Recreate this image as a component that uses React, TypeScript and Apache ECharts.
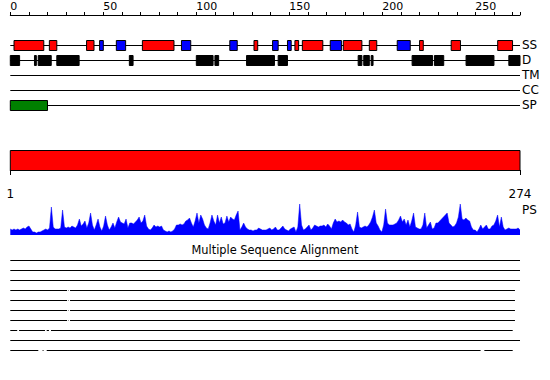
import React, { useEffect, useRef } from 'react';
import * as echarts from 'echarts';

const SEQ_LEN = 274;
const TOP_TICKS = [0, 10, 20, 30, 40, 50, 60, 70, 80, 90, 100, 110, 120, 130, 140, 150, 160, 170, 180, 190, 200, 210, 220, 230, 240, 250, 260, 270, 274];
const TOP_LABELS = [0, 50, 100, 150, 200, 250];
const DOMAIN_LABELS = [1, 274];
const TRACKS = ['SS', 'D', 'TM', 'CC', 'SP'];

// secondary structure: helices (red) and strands (blue), [start, end]
const SS_HELIX = [[2, 18], [21, 25], [41, 45], [71, 88], [131, 133], [153, 155], [157, 168], [179, 189], [193, 197], [220, 222], [237, 242], [262, 270]];
const SS_STRAND = [[48, 50], [57, 62], [92, 97], [118, 122], [141, 144], [149, 151], [172, 178], [208, 215]];
// disorder (black)
const DISORDER = [[0, 5], [13, 14], [15, 22], [25, 37], [64, 66], [100, 109], [110, 112], [127, 142], [144, 149], [187, 189], [190, 193], [194, 195], [216, 227], [228, 233], [245, 260], [268, 274]];
// signal peptide (green)
const SIGNAL = [[0, 20]];
// domain bar
const DOMAIN = [[1, 274]];

// PS profile, one value per residue 1..274
const PS_VALUES = [
  6, 5, 6, 5, 6, 5, 6, 7, 6, 8,
  9, 6, 3, 3, 2, 3, 3, 4, 5, 6,
  5, 7, 28, 8, 6, 6, 6, 7, 25, 8,
  7, 8, 7, 9, 8, 7, 10, 16, 9, 11,
  14, 7, 12, 22, 10, 5, 10, 16, 8, 4,
  9, 19, 10, 5, 8, 12, 7, 13, 18, 13,
  12, 11, 16, 7, 12, 12, 11, 13, 15, 18,
  12, 14, 20, 9, 6, 5, 7, 10, 8, 9,
  8, 9, 5, 4, 3, 4, 3, 4, 6, 10,
  10, 11, 10, 11, 14, 15, 17, 12, 8, 14,
  22, 12, 20, 16, 10, 7, 6, 12, 20, 14,
  10, 20, 12, 18, 11, 12, 19, 13, 18, 16,
  15, 20, 24, 5, 8, 12, 8, 6, 5, 5,
  4, 5, 5, 7, 6, 5, 5, 5, 6, 7,
  5, 6, 8, 5, 5, 7, 9, 6, 5, 4,
  6, 7, 8, 3, 8, 31, 10, 5, 6, 8,
  10, 5, 7, 10, 9, 8, 9, 9, 10, 8,
  11, 9, 6, 12, 16, 13, 14, 13, 15, 13,
  12, 10, 11, 6, 3, 10, 23, 8, 7, 8,
  9, 8, 10, 13, 18, 25, 12, 9, 5, 3,
  10, 26, 12, 10, 10, 10, 11, 12, 15, 19,
  13, 16, 10, 15, 8, 14, 22, 8, 7, 6,
  6, 10, 22, 7, 10, 13, 6, 7, 12, 12,
  14, 16, 18, 20, 22, 12, 10, 8, 9, 12,
  18, 31, 16, 15, 17, 15, 14, 8, 5, 5,
  3, 6, 10, 6, 8, 10, 6, 6, 9, 10,
  14, 20, 8, 18, 8, 5, 6, 7, 6, 6,
  6, 6, 7, 5,
];

// multiple sequence alignment: covered segments per row
const MSA_ROWS = [
  [[1, 274]],
  [[1, 274]],
  [[1, 274]],
  [[1, 31.4], [32.1, 32.3], [33, 271.3]],
  [[1, 31.4], [32.1, 32.3], [33, 271.3]],
  [[1, 31.4], [32.1, 32.3], [33, 271.3]],
  [[1, 31.4], [32.1, 32.3], [33, 271.3]],
  [[1, 4.7], [5.7, 19.6], [20.5, 21.7], [22.8, 270.1]],
  [[1, 274]],
  [[1, 16], [18.3, 18.8], [20.5, 252.9], [254.9, 270.1]],
];

const FONT = 'DejaVu Sans';

function boxRenderer(params: any, api: any) {
  const row = api.value(2);
  const p0 = api.coord([api.value(0), row]);
  const p1 = api.coord([api.value(1), row]);
  return {
    type: 'rect',
    shape: { x: p0[0], y: Math.round(p0[1]) - 5 + 0.5, width: p1[0] - p0[0], height: 10 },
    style: { fill: api.visual('color'), stroke: '#000', lineWidth: 1 },
  };
}

function buildOption() {
  const toRow = (arr: number[][], row: number) => arr.map(([s, e]) => [s, e, row]);
  const msaData: number[][] = [];
  MSA_ROWS.forEach((segs, i) => segs.forEach(([s, e]) => msaData.push([s, e, i])));
  const blackText = { color: '#000', fontFamily: FONT };

  return {
    animation: false,
    textStyle: { fontFamily: FONT, color: '#000' },
    grid: [
      { left: 10.3, width: 509.7, top: 45, height: 60 },
      { left: 10.3, width: 509.7, top: 150, height: 20 },
      { left: 10.3, width: 509.7, top: 200, height: 35 },
      { left: 10.3, width: 509.7, top: 260, height: 90 },
    ],
    xAxis: [
      {
        gridIndex: 0, type: 'value', min: 0, max: SEQ_LEN, position: 'top', offset: 30,
        axisLine: { show: true, lineStyle: { color: '#000', width: 1 } },
        axisTick: { show: true, customValues: TOP_TICKS, length: 3, lineStyle: { color: '#000' } },
        axisLabel: { customValues: TOP_LABELS, align: 'left', margin: 3, fontSize: 11, ...blackText },
        splitLine: { show: false },
      },
      {
        gridIndex: 1, type: 'value', min: 1, max: SEQ_LEN, position: 'bottom', offset: 10,
        axisLine: { show: true, lineStyle: { color: '#000', width: 1 } },
        axisTick: { show: true, customValues: DOMAIN_LABELS, length: 5, lineStyle: { color: '#000' } },
        axisLabel: { customValues: DOMAIN_LABELS, margin: 8, fontSize: 12, ...blackText },
        splitLine: { show: false },
      },
      { gridIndex: 2, type: 'value', min: 1, max: SEQ_LEN, show: false },
      { gridIndex: 3, type: 'value', min: 1, max: SEQ_LEN, show: false },
    ],
    yAxis: [
      {
        gridIndex: 0, type: 'category', data: TRACKS, inverse: true, boundaryGap: false, position: 'right',
        axisLine: { show: false }, axisTick: { show: false },
        axisLabel: { interval: 0, margin: 2, fontSize: 12, ...blackText },
        splitLine: { show: true, interval: 0, lineStyle: { color: '#000', width: 1 } },
      },
      { gridIndex: 1, type: 'value', min: 0, max: 1, show: false },
      { gridIndex: 2, type: 'value', min: 0, max: 35, show: false },
      {
        gridIndex: 3, type: 'category', data: MSA_ROWS.map((_, i) => String(i + 1)), inverse: true,
        boundaryGap: false, show: false,
      },
    ],
    graphic: [
      { type: 'text', x: 522, y: 204, style: { text: 'PS', fontSize: 12, fontFamily: FONT, fill: '#000' } },
      {
        type: 'text', x: 275, y: 250,
        style: { text: 'Multiple Sequence Alignment', fontSize: 11.4, fontFamily: FONT, fill: '#000', align: 'center', verticalAlign: 'middle' },
      },
    ],
    series: [
      { name: 'Helix', type: 'custom', xAxisIndex: 0, yAxisIndex: 0, itemStyle: { color: '#ff0000' }, renderItem: boxRenderer, encode: { x: [0, 1], y: 2 }, data: toRow(SS_HELIX, 0) },
      { name: 'Strand', type: 'custom', xAxisIndex: 0, yAxisIndex: 0, itemStyle: { color: '#0000ff' }, renderItem: boxRenderer, encode: { x: [0, 1], y: 2 }, data: toRow(SS_STRAND, 0) },
      { name: 'Disorder', type: 'custom', xAxisIndex: 0, yAxisIndex: 0, itemStyle: { color: '#000000' }, renderItem: boxRenderer, encode: { x: [0, 1], y: 2 }, data: toRow(DISORDER, 1) },
      { name: 'Signal', type: 'custom', xAxisIndex: 0, yAxisIndex: 0, itemStyle: { color: '#008000' }, renderItem: boxRenderer, encode: { x: [0, 1], y: 2 }, data: toRow(SIGNAL, 4) },
      {
        name: 'Domain', type: 'custom', xAxisIndex: 1, yAxisIndex: 1, itemStyle: { color: '#ff0000' },
        encode: { x: [0, 1] },
        data: DOMAIN,
        renderItem: (params: any, api: any) => {
          const p0 = api.coord([api.value(0), 1]);
          const p1 = api.coord([api.value(1), 0]);
          return {
            type: 'rect',
            shape: { x: p0[0], y: p0[1] + 0.5, width: p1[0] - p0[0], height: p1[1] - p0[1] },
            style: { fill: api.visual('color'), stroke: '#000', lineWidth: 1 },
          };
        },
      },
      {
        name: 'PS', type: 'line', xAxisIndex: 2, yAxisIndex: 2, showSymbol: false, smooth: false,
        data: PS_VALUES.map((v, i) => [i + 1, v]),
        lineStyle: { color: '#0000ff', width: 0.5 },
        areaStyle: { color: '#0000ff', opacity: 1 },
        itemStyle: { color: '#0000ff' },
      },
      {
        name: 'MSA', type: 'custom', xAxisIndex: 3, yAxisIndex: 3, encode: { x: [0, 1], y: 2 },
        data: msaData,
        renderItem: (params: any, api: any) => {
          const row = api.value(2);
          const p0 = api.coord([api.value(0), row]);
          const p1 = api.coord([api.value(1), row]);
          const y = Math.round(p0[1]) + 0.5;
          return { type: 'line', shape: { x1: p0[0], y1: y, x2: p1[0], y2: y }, style: { stroke: '#000', lineWidth: 1 } };
        },
      },
    ],
  };
}

export default function App() {
  const ref = useRef<HTMLDivElement>(null);
  useEffect(() => {
    const chart = echarts.init(ref.current!, null, { renderer: 'svg' });
    chart.setOption(buildOption() as any);
    return () => chart.dispose();
  }, []);
  return <div ref={ref} style={{ position: 'fixed', left: 0, top: 0, width: 550, height: 380, background: '#fff' }} />;
}
